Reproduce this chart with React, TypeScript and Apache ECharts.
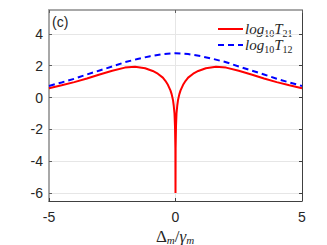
import React, { useEffect, useRef } from "react";
import * as echarts from "echarts";

const xRed = [-5, -4.5, -4, -3.5, -3, -2.5, -2, -1.6, -1.2, -0.9, -0.7, -0.5, -0.4, -0.3, -0.2, -0.15, -0.1, -0.07, -0.04, -0.02, -0.005, 0, 0.005, 0.02, 0.04, 0.07, 0.1, 0.15, 0.2, 0.3, 0.4, 0.5, 0.7, 0.9, 1.2, 1.6, 2, 2.5, 3, 3.5, 4, 4.5, 5];
const yRed = [0.58, 0.77, 0.97, 1.2, 1.45, 1.68, 1.88, 1.93, 1.84, 1.67, 1.5, 1.25, 1.05, 0.8, 0.45, 0.2, -0.15, -0.5, -1.0, -1.8, -3.2, -6, -3.2, -1.8, -1.0, -0.5, -0.15, 0.2, 0.45, 0.8, 1.05, 1.25, 1.5, 1.67, 1.84, 1.93, 1.88, 1.68, 1.45, 1.2, 0.97, 0.77, 0.58];
const xBlue = [-5, -4.5, -4, -3.5, -3, -2.5, -2, -1.5, -1, -0.5, 0, 0.5, 1, 1.5, 2, 2.5, 3, 3.5, 4, 4.5, 5];
const yBlue = [0.73, 0.95, 1.18, 1.45, 1.7, 1.95, 2.22, 2.42, 2.6, 2.73, 2.78, 2.73, 2.6, 2.42, 2.22, 1.95, 1.7, 1.45, 1.18, 0.95, 0.73];
const yTicks = [-6, -4, -2, 0, 2, 4];
const xTicks = [-5, 0, 5];

export default function App() {
  const ref = useRef<HTMLDivElement>(null);
  useEffect(() => {
    const chart = echarts.init(ref.current!, null, { renderer: "svg" });
    const labelFont = { fontFamily: "Liberation Sans, Arial, sans-serif", fontSize: 14, color: "#262626" };
    const grid = { left: 49, right: 25, top: 10, bottom: 44 };
    chart.setOption({
      animation: false,
      grid,
      xAxis: [
        {
          type: "value", min: -5, max: 5, interval: 5, position: "bottom",
          axisLine: { show: true, onZero: false, lineStyle: { color: "#404040", width: 1 } },
          axisTick: { show: true, inside: true, length: 3, lineStyle: { color: "#404040" } },
          axisLabel: { ...labelFont, margin: 9, customValues: xTicks },
          splitLine: { show: true, lineStyle: { color: "#e6e6e6", width: 1 } },
        },
        {
          type: "value", min: -5, max: 5, interval: 5, position: "top",
          axisLine: { show: true, onZero: false, lineStyle: { color: "#a8a8a8", width: 2 } },
          axisTick: { show: true, inside: true, length: 3, lineStyle: { color: "#606060" } },
          axisLabel: { show: false },
          splitLine: { show: false },
        },
      ],
      yAxis: [
        {
          type: "value", min: -6.5, max: 5.5, position: "left",
          axisLine: { show: true, onZero: false, lineStyle: { color: "#a8a8a8", width: 2 } },
          axisTick: { show: true, inside: true, length: 3, customValues: yTicks, lineStyle: { color: "#606060" } },
          axisLabel: { ...labelFont, margin: 6, customValues: yTicks },
          splitLine: { show: true, lineStyle: { color: "#e6e6e6", width: 1 } },
        },
        {
          type: "value", min: -6.5, max: 5.5, position: "right",
          axisLine: { show: true, onZero: false, lineStyle: { color: "#404040", width: 1 } },
          axisTick: { show: true, inside: true, length: 3, customValues: yTicks, lineStyle: { color: "#404040" } },
          axisLabel: { show: false },
          splitLine: { show: false },
        },
      ],
      series: [
        {
          name: "T21", type: "line", xAxisIndex: 0, yAxisIndex: 0, showSymbol: false, symbol: "none",
          data: xRed.map((x, i) => [x, yRed[i]]),
          lineStyle: { color: "#ff0000", width: 2 }, z: 3,
        },
        {
          name: "T12", type: "line", xAxisIndex: 0, yAxisIndex: 0, showSymbol: false, symbol: "none",
          data: xBlue.map((x, i) => [x, yBlue[i]]),
          lineStyle: { color: "#0000ff", width: 2, type: [6, 4] }, z: 4,
        },
      ],
      graphic: [
        { type: "line", shape: { x1: 218, y1: 29, x2: 243, y2: 29 }, style: { stroke: "#ff0000", lineWidth: 2 } },
        { type: "line", shape: { x1: 218, y1: 45, x2: 243, y2: 45 }, style: { stroke: "#0000ff", lineWidth: 2, lineDash: [6, 4] } },
        {
          type: "text", x: 245, y: 29,
          style: {
            text: "{a|log}{b|10}{a|T}{b|21}", verticalAlign: "middle",
            rich: {
              a: { fontFamily: "Liberation Serif, serif", fontStyle: "italic", fontSize: 15, fill: "#262626", verticalAlign: "middle", lineHeight: 18 },
              b: { fontFamily: "Liberation Serif, serif", fontSize: 10, fill: "#262626", verticalAlign: "bottom", lineHeight: 18, padding: [6, 0, 0, 0] },
            },
          },
        },
        {
          type: "text", x: 245, y: 45,
          style: {
            text: "{a|log}{b|10}{a|T}{b|12}", verticalAlign: "middle",
            rich: {
              a: { fontFamily: "Liberation Serif, serif", fontStyle: "italic", fontSize: 15, fill: "#262626", verticalAlign: "middle", lineHeight: 18 },
              b: { fontFamily: "Liberation Serif, serif", fontSize: 10, fill: "#262626", verticalAlign: "bottom", lineHeight: 18, padding: [6, 0, 0, 0] },
            },
          },
        },
        {
          type: "text", x: 52, y: 22,
          style: { text: "(c)", fontFamily: "Liberation Sans, Arial, sans-serif", fontSize: 14, fill: "#262626", verticalAlign: "middle" },
        },
        {
          type: "text", x: 175, y: 236,
          style: {
            text: "{u|Δ}{s|m}{u|/}{i|γ}{s|m}", align: "center", verticalAlign: "middle",
            rich: {
              u: { fontFamily: "Liberation Serif, serif", fontSize: 17, fill: "#262626", verticalAlign: "middle", lineHeight: 18 },
              i: { fontFamily: "Liberation Serif, serif", fontStyle: "italic", fontSize: 17, fill: "#262626", verticalAlign: "middle", lineHeight: 18 },
              s: { fontFamily: "Liberation Serif, serif", fontStyle: "italic", fontSize: 11, fill: "#262626", verticalAlign: "bottom", lineHeight: 18, padding: [5, 0, 0, 0] },
            },
          },
        },
      ],
    });
    return () => chart.dispose();
  }, []);
  return <div ref={ref} style={{ width: 327, height: 245, position: "absolute", left: 0, top: 0 }} />;
}
